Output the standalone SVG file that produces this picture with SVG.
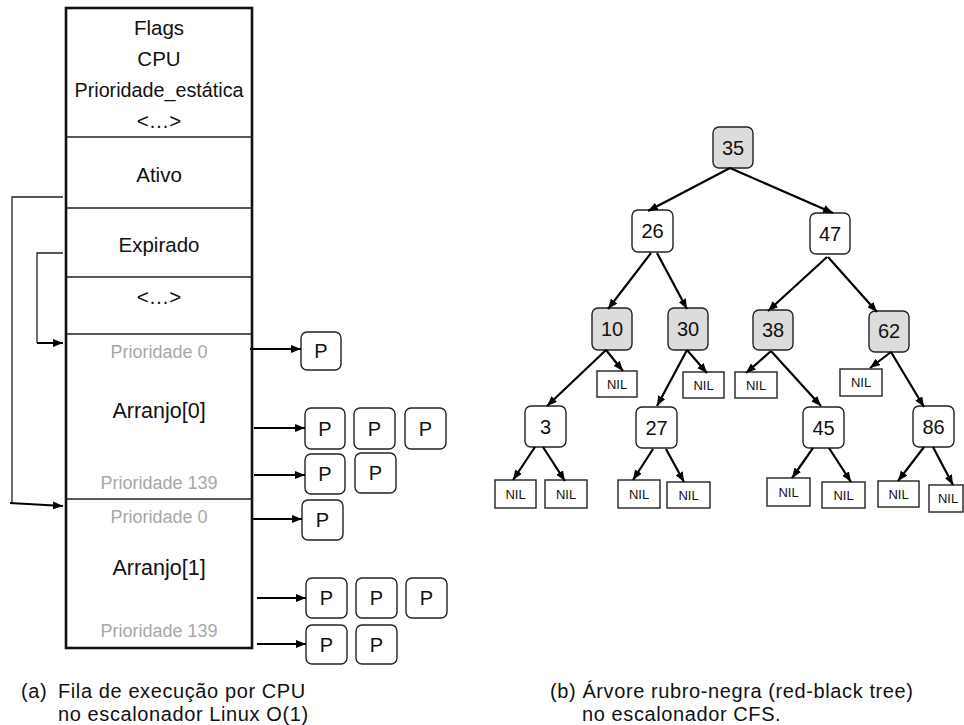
<svg xmlns="http://www.w3.org/2000/svg" width="964" height="725" viewBox="0 0 964 725">
<defs>
<style>
text{font-family:"Liberation Sans",Arial,sans-serif;fill:#111}
.lbl{font-size:20.5px;text-anchor:middle}
.gray{font-size:18px;text-anchor:middle;fill:#a8a8a8}
.arr{font-size:21.5px;text-anchor:middle}
.p{font-size:20px;text-anchor:middle}
.num{font-size:20px;text-anchor:middle}
.nil{font-size:13px;text-anchor:middle}
.cap{font-size:20px;letter-spacing:0.6px}
.pbox{fill:#fff;stroke:#222;stroke-width:1.4}
.node{fill:#fff;stroke:#222;stroke-width:1.4}
.black{fill:#dcdcdc;stroke:#222;stroke-width:1.4}
.nbox{fill:#fff;stroke:#222;stroke-width:1.4}
.div{stroke:#222;stroke-width:1.3;fill:none}
.thin{stroke:#222;stroke-width:1.3;fill:none}
.ar{stroke:#000;stroke-width:2;fill:none;marker-end:url(#ah)}
.te{stroke:#000;stroke-width:2.2;fill:none;marker-end:url(#ah)}
</style>
<marker id="ah" viewBox="0 0 10 8" refX="10" refY="4" markerWidth="10" markerHeight="8" markerUnits="userSpaceOnUse" orient="auto">
<path d="M0,0 L10,4 L0,8 z" fill="#000"/>
</marker>
</defs>

<g id="runqueue">
<rect x="66" y="8" width="186" height="640" fill="#fff" stroke="#111" stroke-width="2.6"/>
<line class="div" x1="66" y1="137" x2="252" y2="137"/>
<line class="div" x1="66" y1="208" x2="252" y2="208"/>
<line class="div" x1="66" y1="277" x2="252" y2="277"/>
<line class="div" x1="66" y1="334" x2="252" y2="334"/>
<line class="div" x1="66" y1="499" x2="252" y2="499"/>
<text class="lbl" x="159" y="35">Flags</text>
<text class="lbl" x="159" y="66">CPU</text>
<text class="lbl" x="159" y="97" textLength="169" lengthAdjust="spacingAndGlyphs">Prioridade_estática</text>
<text class="lbl" x="159" y="128">&lt;…&gt;</text>
<text class="lbl" x="159" y="182">Ativo</text>
<text class="lbl" x="159" y="252">Expirado</text>
<text class="lbl" x="159" y="304">&lt;…&gt;</text>
<text class="gray" x="159" y="358">Prioridade 0</text>
<text class="arr" x="159" y="418">Arranjo[0]</text>
<text class="gray" x="159" y="489">Prioridade 139</text>
<text class="gray" x="159" y="523">Prioridade 0</text>
<text class="arr" x="159" y="575">Arranjo[1]</text>
<text class="gray" x="159" y="637">Prioridade 139</text>
</g>

<g id="processes">
<rect class="pbox" x="301" y="332" width="40" height="38" rx="6"/><text class="p" x="321" y="358">P</text>
<rect class="pbox" x="305" y="408" width="40" height="41" rx="6"/><text class="p" x="325" y="436">P</text>
<rect class="pbox" x="354" y="408" width="41" height="41" rx="6"/><text class="p" x="374.5" y="436">P</text>
<rect class="pbox" x="405" y="408" width="41" height="41" rx="6"/><text class="p" x="425.5" y="436">P</text>
<rect class="pbox" x="305" y="454" width="40" height="40" rx="6"/><text class="p" x="325" y="481">P</text>
<rect class="pbox" x="355" y="453" width="41" height="40" rx="6"/><text class="p" x="375.5" y="480">P</text>
<rect class="pbox" x="302" y="500" width="41" height="40" rx="6"/><text class="p" x="322.5" y="527">P</text>
<rect class="pbox" x="306" y="578" width="41" height="40" rx="6"/><text class="p" x="326.5" y="605">P</text>
<rect class="pbox" x="356" y="578" width="41" height="40" rx="6"/><text class="p" x="376.5" y="605">P</text>
<rect class="pbox" x="406" y="578" width="41" height="40" rx="6"/><text class="p" x="426.5" y="605">P</text>
<rect class="pbox" x="306" y="625" width="41" height="39" rx="6"/><text class="p" x="326.5" y="652">P</text>
<rect class="pbox" x="356" y="625" width="41" height="39" rx="6"/><text class="p" x="376.5" y="652">P</text>
</g>

<g id="tree-nodes">
<g id="n35"><rect class="black" x="713" y="127" width="40" height="41" rx="6"/><text class="num" x="733" y="155">35</text></g>
<g id="n26"><rect class="node" x="632" y="210" width="41" height="42" rx="6"/><text class="num" x="652.5" y="238">26</text></g>
<g id="n47"><rect class="node" x="810" y="213" width="40" height="41" rx="6"/><text class="num" x="830" y="241">47</text></g>
<g id="n10"><rect class="black" x="592" y="308" width="40" height="42" rx="6"/><text class="num" x="612" y="336">10</text></g>
<g id="n30"><rect class="black" x="668" y="308" width="40" height="42" rx="6"/><text class="num" x="688" y="336">30</text></g>
<g id="n38"><rect class="black" x="753" y="310" width="40" height="40" rx="6"/><text class="num" x="773" y="337">38</text></g>
<g id="n62"><rect class="black" x="869" y="311" width="40" height="41" rx="6"/><text class="num" x="889" y="338">62</text></g>
<g id="n3"><rect class="node" x="525" y="406" width="41" height="41" rx="6"/><text class="num" x="545.5" y="434">3</text></g>
<g id="n27"><rect class="node" x="636" y="407" width="41" height="41" rx="6"/><text class="num" x="656.5" y="435">27</text></g>
<g id="n45"><rect class="node" x="803" y="407" width="41" height="41" rx="6"/><text class="num" x="823.5" y="435">45</text></g>
<g id="n86"><rect class="node" x="913" y="406" width="41" height="41" rx="6"/><text class="num" x="933.5" y="434">86</text></g>
<g id="nil10"><rect class="nbox" x="597" y="371" width="40" height="26"/><text class="nil" x="617" y="389">NIL</text></g>
<g id="nil30"><rect class="nbox" x="683" y="372" width="41" height="26"/><text class="nil" x="703.5" y="390">NIL</text></g>
<g id="nil38"><rect class="nbox" x="735" y="372" width="42" height="26"/><text class="nil" x="756" y="390">NIL</text></g>
<g id="nil62"><rect class="nbox" x="840" y="369" width="42" height="27"/><text class="nil" x="861" y="387">NIL</text></g>
<g id="nil3a"><rect class="nbox" x="495" y="480" width="41" height="28"/><text class="nil" x="515.5" y="499">NIL</text></g>
<g id="nil3b"><rect class="nbox" x="545" y="480" width="42" height="28"/><text class="nil" x="566" y="499">NIL</text></g>
<g id="nil27a"><rect class="nbox" x="618" y="480" width="42" height="28"/><text class="nil" x="639" y="499">NIL</text></g>
<g id="nil27b"><rect class="nbox" x="667" y="482" width="43" height="26"/><text class="nil" x="688.5" y="500">NIL</text></g>
<g id="nil45a"><rect class="nbox" x="767" y="478" width="43" height="28"/><text class="nil" x="788.5" y="497">NIL</text></g>
<g id="nil45b"><rect class="nbox" x="822" y="482" width="43" height="26"/><text class="nil" x="843.5" y="500">NIL</text></g>
<g id="nil86a"><rect class="nbox" x="878" y="481" width="41" height="26"/><text class="nil" x="898.5" y="499">NIL</text></g>
<g id="nil86b"><rect class="nbox" x="929" y="485" width="34" height="27"/><text class="nil" x="948" y="503">NIL</text></g>
</g>

<g id="connectors">
<polyline class="thin" points="63,197 12,197 12,503"/>
<line class="ar" x1="10" y1="503" x2="63" y2="506"/>
<polyline class="thin" points="63,253 37,253 37,343"/>
<line class="ar" x1="37" y1="343" x2="63" y2="343"/>
<line class="ar" x1="250" y1="349" x2="301" y2="349"/>
<line class="ar" x1="254" y1="428" x2="305" y2="428"/>
<line class="ar" x1="254" y1="475" x2="305" y2="475"/>
<line class="ar" x1="253" y1="519" x2="302" y2="519"/>
<line class="ar" x1="257" y1="598" x2="306" y2="598"/>
<line class="ar" x1="257" y1="644" x2="306" y2="644"/>
<line class="te" x1="730" y1="168" x2="648" y2="211"/>
<line class="te" x1="730" y1="168" x2="833" y2="213"/>
<line class="te" x1="651" y1="253" x2="608" y2="309"/>
<line class="te" x1="657" y1="253" x2="687" y2="309"/>
<line class="te" x1="827" y1="257" x2="768" y2="311"/>
<line class="te" x1="828" y1="257" x2="877" y2="312"/>
<line class="te" x1="606" y1="350" x2="547" y2="406"/>
<line class="te" x1="606" y1="350" x2="623" y2="371"/>
<line class="te" x1="687" y1="350" x2="657" y2="406"/>
<line class="te" x1="687" y1="350" x2="707" y2="373"/>
<line class="te" x1="771" y1="351" x2="746" y2="373"/>
<line class="te" x1="771" y1="351" x2="821" y2="406"/>
<line class="te" x1="891" y1="352" x2="870" y2="368"/>
<line class="te" x1="891" y1="352" x2="924" y2="407"/>
<line class="te" x1="535" y1="447" x2="513" y2="480"/>
<line class="te" x1="543" y1="447" x2="565" y2="481"/>
<line class="te" x1="653" y1="449" x2="633" y2="480"/>
<line class="te" x1="666" y1="449" x2="684" y2="482"/>
<line class="te" x1="813" y1="448" x2="792" y2="478"/>
<line class="te" x1="829" y1="448" x2="851" y2="482"/>
<line class="te" x1="924" y1="447" x2="898" y2="481"/>
<line class="te" x1="933" y1="447" x2="953" y2="485"/>
</g>

<g id="captions">
<text class="cap" x="21" y="698">(a)</text>
<text class="cap" x="58" y="698">Fila de execução por CPU</text>
<text class="cap" x="58" y="721">no escalonador Linux O(1)</text>
<text class="cap" x="550" y="698">(b) Árvore rubro-negra (red-black tree)</text>
<text class="cap" x="582" y="721">no escalonador CFS.</text>
</g>
</svg>
